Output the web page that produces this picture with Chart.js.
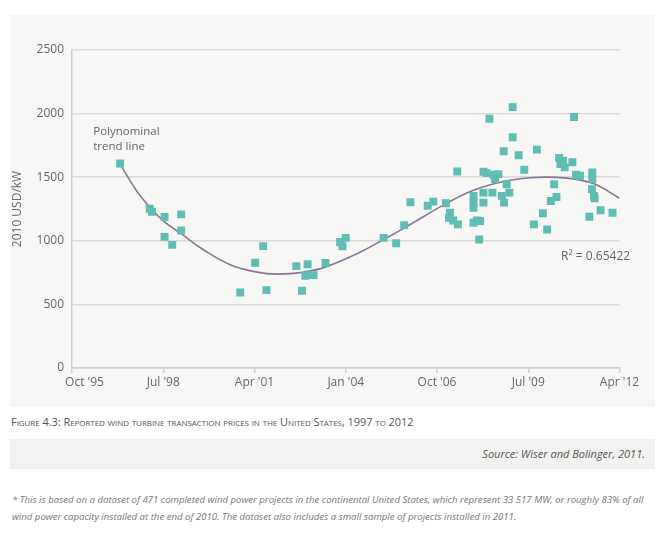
<!DOCTYPE html>
<html>
<head>
<meta charset="utf-8">
<script src="https://cdn.jsdelivr.net/npm/chart.js@4/dist/chart.umd.min.js"></script>
<style>
  html, body { margin: 0; padding: 0; background: #fff; width: 665px; height: 538px; overflow: hidden; font-family: 'Open Sans', sans-serif; }
  #panel { position: absolute; left: 10px; top: 15px; width: 645px; height: 392px; background: #f7f7f5; }
  #caption { position: absolute; left: 11px; top: 414px; font-size: 11px; color: #555; font-variant: small-caps; letter-spacing: -0.05px; }
  #source { position: absolute; left: 10px; top: 439px; width: 645px; height: 30px; background: #f2f2f0; }
  #source span { position: absolute; right: 10px; top: 7px; font-size: 11px; font-style: italic; color: #555; }
  #note { position: absolute; left: 12px; top: 491px; width: 640px; font-size: 9.6px; line-height: 17px; font-style: italic; color: #777; }
</style>
</head>
<body>
<div id="panel"><canvas id="priceChart"></canvas></div>
<div id="caption">Figure 4.3: Reported wind turbine transaction prices in the United States, 1997 to 2012</div>
<div id="source"><span>Source: Wiser and Bolinger, 2011.</span></div>
<div id="note">* This is based on a dataset of 471 completed wind power projects in the continental United States, which represent 33 517 MW, or roughly 83% of all wind power capacity installed at the end of 2010. The dataset also includes a small sample of projects installed in 2011.</div>

<script>
// project date (decimal year) and price in 2010 USD/kW
const projectDates = [
  1997.20, 1998.09, 1998.16, 1998.54, 1998.54, 1998.77, 1999.04, 1999.04,
  2000.82, 2001.27, 2001.51, 2001.61, 2002.51, 2002.68, 2002.78, 2002.85, 2002.88, 2003.03,
  2003.39, 2003.83, 2003.90, 2004.00, 2005.14, 2005.52, 2005.76, 2005.95, 2006.47, 2006.64,
  2007.02, 2007.14, 2007.11, 2007.24, 2007.38, 2007.36, 2007.85, 2007.85, 2007.85, 2007.85,
  2008.02, 2007.95, 2008.05, 2008.15, 2008.25, 2008.45, 2008.60, 2008.50, 2008.85, 2008.93,
  2008.15, 2008.42, 2008.70, 2008.77, 2008.15, 2008.33, 2009.03, 2009.03, 2008.76, 2009.21,
  2009.76, 2009.38, 2009.94, 2009.67, 2010.07, 2010.18, 2010.28, 2010.35, 2010.43, 2010.55,
  2010.47, 2010.60, 2010.83, 2010.88, 2010.94, 2011.06, 2011.43, 2011.43, 2011.42, 2011.48,
  2011.50, 2011.34, 2011.68, 2012.04
];
const projectPrices = [
  1608, 1252, 1229, 1187, 1031, 968, 1208, 1081,
  594, 828, 958, 612, 801, 607, 725, 815, 733, 730,
  825, 991, 957, 1023, 1023, 981, 1123, 1303, 1276, 1308,
  1295, 1221, 1181, 1160, 1129, 1545, 1353, 1300, 1260, 1142,
  1010, 1160, 1155, 1543, 1532, 1519, 1524, 1485, 1445, 1379,
  1379, 1379, 1353, 1300, 1300, 1960, 2051, 1814, 1704, 1672,
  1717, 1558, 1216, 1129, 1089, 1313, 1445, 1345, 1651, 1630,
  1604, 1577, 1617, 1973, 1519, 1511, 1537, 1485, 1406, 1353,
  1335, 1189, 1240, 1221
];

// polynomial trend line
const trendDates  = [1997.2, 1997.7, 1998.11, 1998.51, 1999.06, 1999.71, 2000.52, 2001.32, 2001.92, 2002.7, 2003.4, 2004.43, 2005.14, 2005.76, 2007.02, 2007.85, 2008.85, 2009.65, 2010.66, 2011.46, 2012.25];
const trendPrices = [1603, 1392, 1260, 1155, 1052, 930, 812, 754, 738, 752, 795, 910, 1010, 1100, 1292, 1398, 1472, 1498, 1493, 1450, 1335];

const xTickValues = [1995.75, 1998.5, 2001.25, 2004, 2006.75, 2009.5, 2012.25];
const xTickLabels = ["        Oct '95", "Jul '98", "Apr '01", "Jan '04", "Oct '06", "Jul '09", "Apr '12"];
const yTickValues = [0, 500, 1000, 1500, 2000, 2500];

const scatterPoints = projectDates.map((d, i) => ({ x: d, y: projectPrices[i] }));
const trendPoints = trendDates.map((d, i) => ({ x: d, y: trendPrices[i] }));

const textColor = '#666';
const gridColor = '#dadad8';

const annotations = {
  id: 'annotations',
  afterDraw(chart) {
    const { ctx, scales: { x, y } } = chart;
    ctx.save();
    ctx.fillStyle = textColor;
    ctx.font = '11.5px "Open Sans"';
    ctx.textBaseline = 'middle';
    ctx.textAlign = 'left';
    ctx.fillText('Polynominal', x.getPixelForValue(1996.39), y.getPixelForValue(1858));
    ctx.fillText('trend line', x.getPixelForValue(1996.39), y.getPixelForValue(1740));
    ctx.font = '12px "Open Sans"';
    ctx.textAlign = 'right';
    ctx.fillText('R\u00B2 = 0.65422', x.getPixelForValue(2012.57), y.getPixelForValue(878));
    ctx.restore();
  },
};

new Chart(document.getElementById('priceChart').getContext('2d'), {
  type: 'scatter',
  data: {
    datasets: [
      {
        label: 'Trend',
        type: 'line',
        data: trendPoints,
        borderColor: '#8a7594',
        borderWidth: 1.6,
        pointRadius: 0,
        tension: 0.4,
        fill: false,
        order: 2,
      },
      {
        label: 'Projects',
        data: scatterPoints,
        pointStyle: 'rect',
        pointRadius: 5.6,
        pointBorderWidth: 0,
        backgroundColor: '#5fbdb4',
        borderColor: '#5fbdb4',
        order: 1,
      },
    ],
  },
  options: {
    responsive: true,
    maintainAspectRatio: false,
    animation: false,
    layout: { padding: { left: 0, right: 35.5, top: 35, bottom: 0 } },
    plugins: { legend: { display: false }, tooltip: { enabled: false } },
    scales: {
      x: {
        type: 'linear',
        min: 1995.75,
        max: 2012.25,
        afterBuildTicks: (scale) => { scale.ticks = xTickValues.map((v) => ({ value: v })); },
        afterFit: (scale) => { scale.height = 39; },
        ticks: {
          color: textColor,
          font: { family: 'Open Sans', size: 12 },
          padding: 2,
          maxRotation: 0,
          autoSkip: false,
          callback: (v) => xTickLabels[xTickValues.indexOf(v)],
        },
        grid: { drawOnChartArea: false, drawTicks: true, tickLength: 5, color: '#cfcfcd', lineWidth: 1.5 },
        border: { color: '#cfcfcd', width: 1.5 },
      },
      y: {
        min: 0,
        max: 2500,
        afterBuildTicks: (scale) => { scale.ticks = yTickValues.map((v) => ({ value: v })); },
        afterFit: (scale) => { scale.width = 62; },
        ticks: { color: textColor, font: { family: 'Open Sans', size: 12 }, padding: 8, callback: (v) => String(v) },
        grid: { color: gridColor, lineWidth: 1.6, drawTicks: false },
        border: { color: '#cfcfcd', width: 1.5 },
        title: { display: true, text: '2010 USD/kW', color: textColor, font: { family: 'Open Sans', size: 12 }, padding: { top: 0, bottom: 0 } },
      },
    },
  },
  plugins: [annotations],
});
</script>
</body>
</html>
